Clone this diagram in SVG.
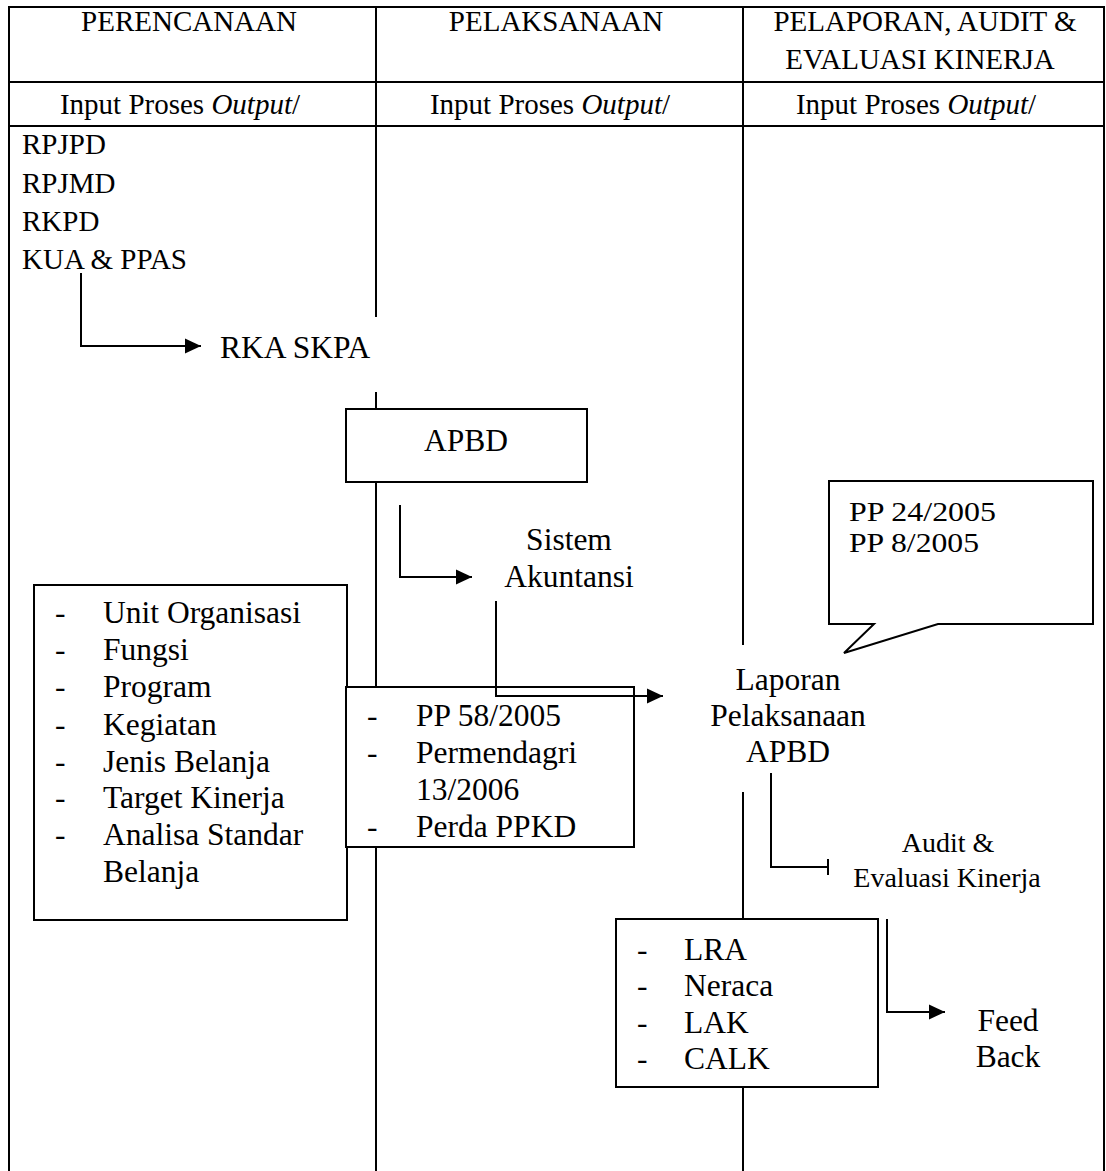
<svg xmlns="http://www.w3.org/2000/svg" width="1106" height="1171" viewBox="0 0 1106 1171">
<style>
text{font-family:"Liberation Serif","Times New Roman",serif;fill:#000}
.h{font-size:29px}
.l{font-size:29px}
.t{font-size:31.5px}
.s{font-size:28px}
.ln{stroke:#000;stroke-width:2;fill:none}
.box{stroke:#000;stroke-width:2;fill:#fff}
.c{stroke:#000;stroke-width:2;fill:none}
</style>
<defs>
<marker id="arr" markerUnits="userSpaceOnUse" markerWidth="18" markerHeight="16" refX="16" refY="8" orient="auto">
<path d="M0,0.5 L16,8 L0,15.5 Z" fill="#000"/>
</marker>
</defs>
<rect width="1106" height="1171" fill="#fff"/>
<g id="table">
<path class="ln" d="M9,1171 V7 H1104 V1171"/>
<path class="ln" d="M9,82 H1104 M9,126 H1104"/>
<path class="ln" d="M376,7 V126 M743,7 V126"/>
<path class="ln" d="M376,126 V317 M376,392 V409 M376,482 V687 M376,847 V1171"/>
<path class="ln" d="M743,126 V645 M743,792 V919 M743,1087 V1171"/>
</g>
<g id="headers">
<text class="h" x="189" y="31" text-anchor="middle">PERENCANAAN</text>
<text class="h" x="556" y="31" text-anchor="middle">PELAKSANAAN</text>
<text class="h" x="925" y="31" text-anchor="middle">PELAPORAN, AUDIT &amp;</text>
<text class="h" x="920" y="69" text-anchor="middle">EVALUASI KINERJA</text>
<text class="h" x="180" y="114" text-anchor="middle">Input Proses <tspan font-style="italic">Output</tspan>/</text>
<text class="h" x="550" y="114" text-anchor="middle">Input Proses <tspan font-style="italic">Output</tspan>/</text>
<text class="h" x="916" y="114" text-anchor="middle">Input Proses <tspan font-style="italic">Output</tspan>/</text>
</g>
<g id="planning-inputs">
<text class="l" x="22" y="154">RPJPD</text>
<text class="l" x="22" y="192.5">RPJMD</text>
<text class="l" x="22" y="231">RKPD</text>
<text class="l" x="22" y="269">KUA &amp; PPAS</text>
</g>
<g id="rka-skpa">
<text class="t" x="220" y="358" font-size="31.7">RKA SKPA</text>
</g>
<g id="apbd">
<rect class="box" x="346" y="409" width="241" height="73"/>
<text class="t" x="466" y="451" text-anchor="middle">APBD</text>
</g>
<g id="sistem-akuntansi">
<text class="t" x="569" y="550" text-anchor="middle">Sistem</text>
<text class="t" x="569" y="587" text-anchor="middle">Akuntansi</text>
</g>
<g id="planning-list">
<rect class="box" x="34" y="585" width="313" height="335"/>
<text class="t" x="55" y="623">-</text><text class="t" x="103" y="623">Unit Organisasi</text>
<text class="t" x="55" y="660">-</text><text class="t" x="103" y="660">Fungsi</text>
<text class="t" x="55" y="697">-</text><text class="t" x="103" y="697">Program</text>
<text class="t" x="55" y="735">-</text><text class="t" x="103" y="735">Kegiatan</text>
<text class="t" x="55" y="772">-</text><text class="t" x="103" y="772">Jenis Belanja</text>
<text class="t" x="55" y="808">-</text><text class="t" x="103" y="808">Target Kinerja</text>
<text class="t" x="55" y="845">-</text><text class="t" x="103" y="845">Analisa Standar</text>
<text class="t" x="103" y="882">Belanja</text>
</g>
<g id="regulation-list">
<rect class="box" x="346" y="687" width="288" height="160"/>
<text class="t" x="367" y="726">-</text><text class="t" x="416" y="726">PP 58/2005</text>
<text class="t" x="367" y="763">-</text><text class="t" x="416" y="763">Permendagri</text>
<text class="t" x="416" y="800">13/2006</text>
<text class="t" x="367" y="837">-</text><text class="t" x="416" y="837">Perda PPKD</text>
</g>
<g id="callout">
<path class="box" d="M829,481 H1093 V624 H938 L844,653 L874,624 H829 Z"/>
<text class="s" x="849" y="521" textLength="147" lengthAdjust="spacingAndGlyphs">PP 24/2005</text>
<text class="s" x="849" y="552" textLength="130" lengthAdjust="spacingAndGlyphs">PP 8/2005</text>
</g>
<g id="laporan">
<text class="t" x="788" y="690" text-anchor="middle">Laporan</text>
<text class="t" x="788" y="726" text-anchor="middle">Pelaksanaan</text>
<text class="t" x="788" y="762" text-anchor="middle">APBD</text>
</g>
<g id="audit">
<text class="s" x="948" y="852" text-anchor="middle">Audit &amp;</text>
<text class="s" x="947" y="887" text-anchor="middle">Evaluasi Kinerja</text>
</g>
<g id="report-list">
<rect class="box" x="616" y="919" width="262" height="168"/>
<text class="t" x="637" y="960">-</text><text class="t" x="684" y="960">LRA</text>
<text class="t" x="637" y="996">-</text><text class="t" x="684" y="996">Neraca</text>
<text class="t" x="637" y="1033">-</text><text class="t" x="684" y="1033">LAK</text>
<text class="t" x="637" y="1069">-</text><text class="t" x="684" y="1069">CALK</text>
</g>
<g id="feedback">
<text class="t" x="1008" y="1031" text-anchor="middle">Feed</text>
<text class="t" x="1008" y="1067" text-anchor="middle">Back</text>
</g>
<g id="connectors">
<path class="c" d="M81,273 V346 H201" marker-end="url(#arr)"/>
<path class="c" d="M400,505 V577 H472" marker-end="url(#arr)"/>
<path class="c" d="M496,601 V696 H663" marker-end="url(#arr)"/>
<path class="c" d="M771,773 V867 H828 M828,859 V875"/>
<path class="c" d="M887,919 V1012 H945" marker-end="url(#arr)"/>
</g>
</svg>
